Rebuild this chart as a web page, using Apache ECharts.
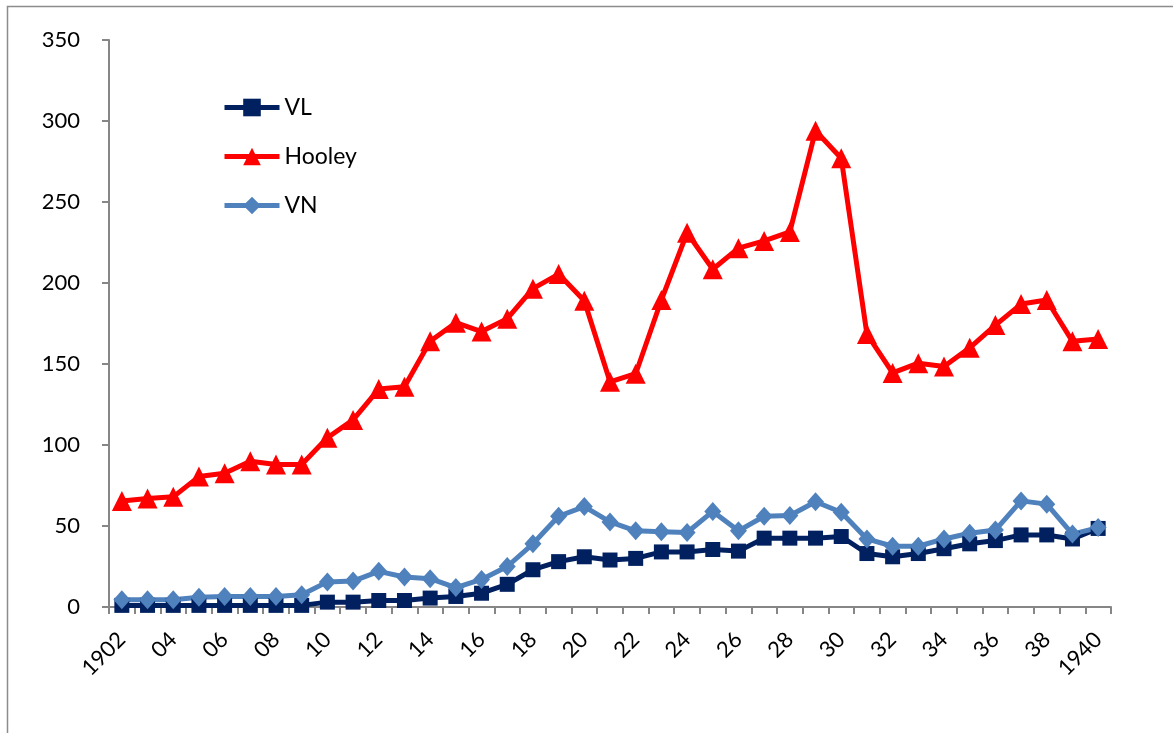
<!DOCTYPE html>
<html>
<head>
<meta charset="utf-8">
<script src="https://cdn.jsdelivr.net/npm/echarts@6/dist/echarts.min.js"></script>
<style>
html,body{margin:0;padding:0;background:#fff;}
#chart{width:1173px;height:733px;}
</style>
</head>
<body>
<div id="chart"></div>
<script>
const categories = ['1902','03','04','05','06','07','08','09','10','11','12','13','14','15','16','17','18','19','20','21','22','23','24','25','26','27','28','29','30','31','32','33','34','35','36','37','38','39','1940'];
const vl = [1,1,1,1,1,1,1,1,3,3,4,4,5.5,6.5,8.5,14,23,28,31,29,30,34,34,35.5,34.5,42.5,42.5,42.5,43.5,33,31,33,36,39,41,44.5,44.5,42,48.5];
const hooley = [65.5,67,68,80.5,82.5,90,88,88,104.5,115.5,134.5,136,164,175.5,170,178,196.5,205.5,189,139,144,189.5,231,208.5,221.5,226,231.5,294,277,168.5,144.5,150.5,148.5,160,174,187,189.5,164,165.5];
const vn = [4.5,4.5,4.5,6,6.5,6.5,6.5,7.5,15.5,16,22,18.5,17.5,12,17,25,39,56,62,52.5,47,46.5,46,59,47,56,56.5,65,58.5,42,37.5,37.5,42,45.5,47.5,65.5,63.5,45,49];
const yTicks = {min: 0, max: 350, interval: 50};

const FONT = 'Lato, "Open Sans", sans-serif';
const chart = echarts.init(document.getElementById('chart'), null, {renderer: 'canvas'});

function lineSeries(name, data, color, symbol, size, width) {
  return {
    name: name, type: 'line', data: data,
    symbol: symbol, symbolSize: size,
    showAllSymbol: true,
    lineStyle: {color: color, width: width},
    itemStyle: {color: color},
    emphasis: {disabled: true},
    animation: false
  };
}

chart.setOption({
  animation: false,
  backgroundColor: '#ffffff',
  graphic: [{
    type: 'rect', left: 5, top: 4,
    shape: {width: 1180, height: 728},
    style: {fill: 'none', stroke: '#8c8c8c', lineWidth: 1.5},
    silent: true
  }],
  grid: {left: 109, right: 62, top: 40, bottom: 126, containLabel: false},
  legend: {
    orient: 'vertical', left: 217, top: 91,
    itemWidth: 55, itemHeight: 22, itemGap: 26,
    lineStyle: {width: 5},
    textStyle: {fontFamily: FONT, fontSize: 23, color: '#000'},
    data: ['VL', 'Hooley', 'VN']
  },
  xAxis: {
    type: 'category', data: categories, boundaryGap: true,
    axisLine: {lineStyle: {color: '#868686', width: 2}},
    axisTick: {show: true, interval: 0, length: 7, lineStyle: {color: '#868686', width: 2}},
    axisLabel: {interval: 1, rotate: 45, margin: 29, fontFamily: FONT, fontSize: 22, color: '#000'},
    splitLine: {show: false}
  },
  yAxis: {
    type: 'value', min: yTicks.min, max: yTicks.max, interval: yTicks.interval,
    axisLine: {show: true, lineStyle: {color: '#868686', width: 2}},
    axisTick: {show: true, length: 7, lineStyle: {color: '#868686', width: 2}},
    axisLabel: {margin: 29, fontFamily: FONT, fontSize: 22, color: '#000'},
    splitLine: {show: false}
  },
  series: [
    lineSeries('VL', vl, '#002060', 'rect', 15, 5),
    lineSeries('Hooley', hooley, '#ff0000', 'triangle', 20, 5),
    lineSeries('VN', vn, '#4f81bd', 'diamond', [17, 19], 5)
  ]
});
</script>
</body>
</html>
